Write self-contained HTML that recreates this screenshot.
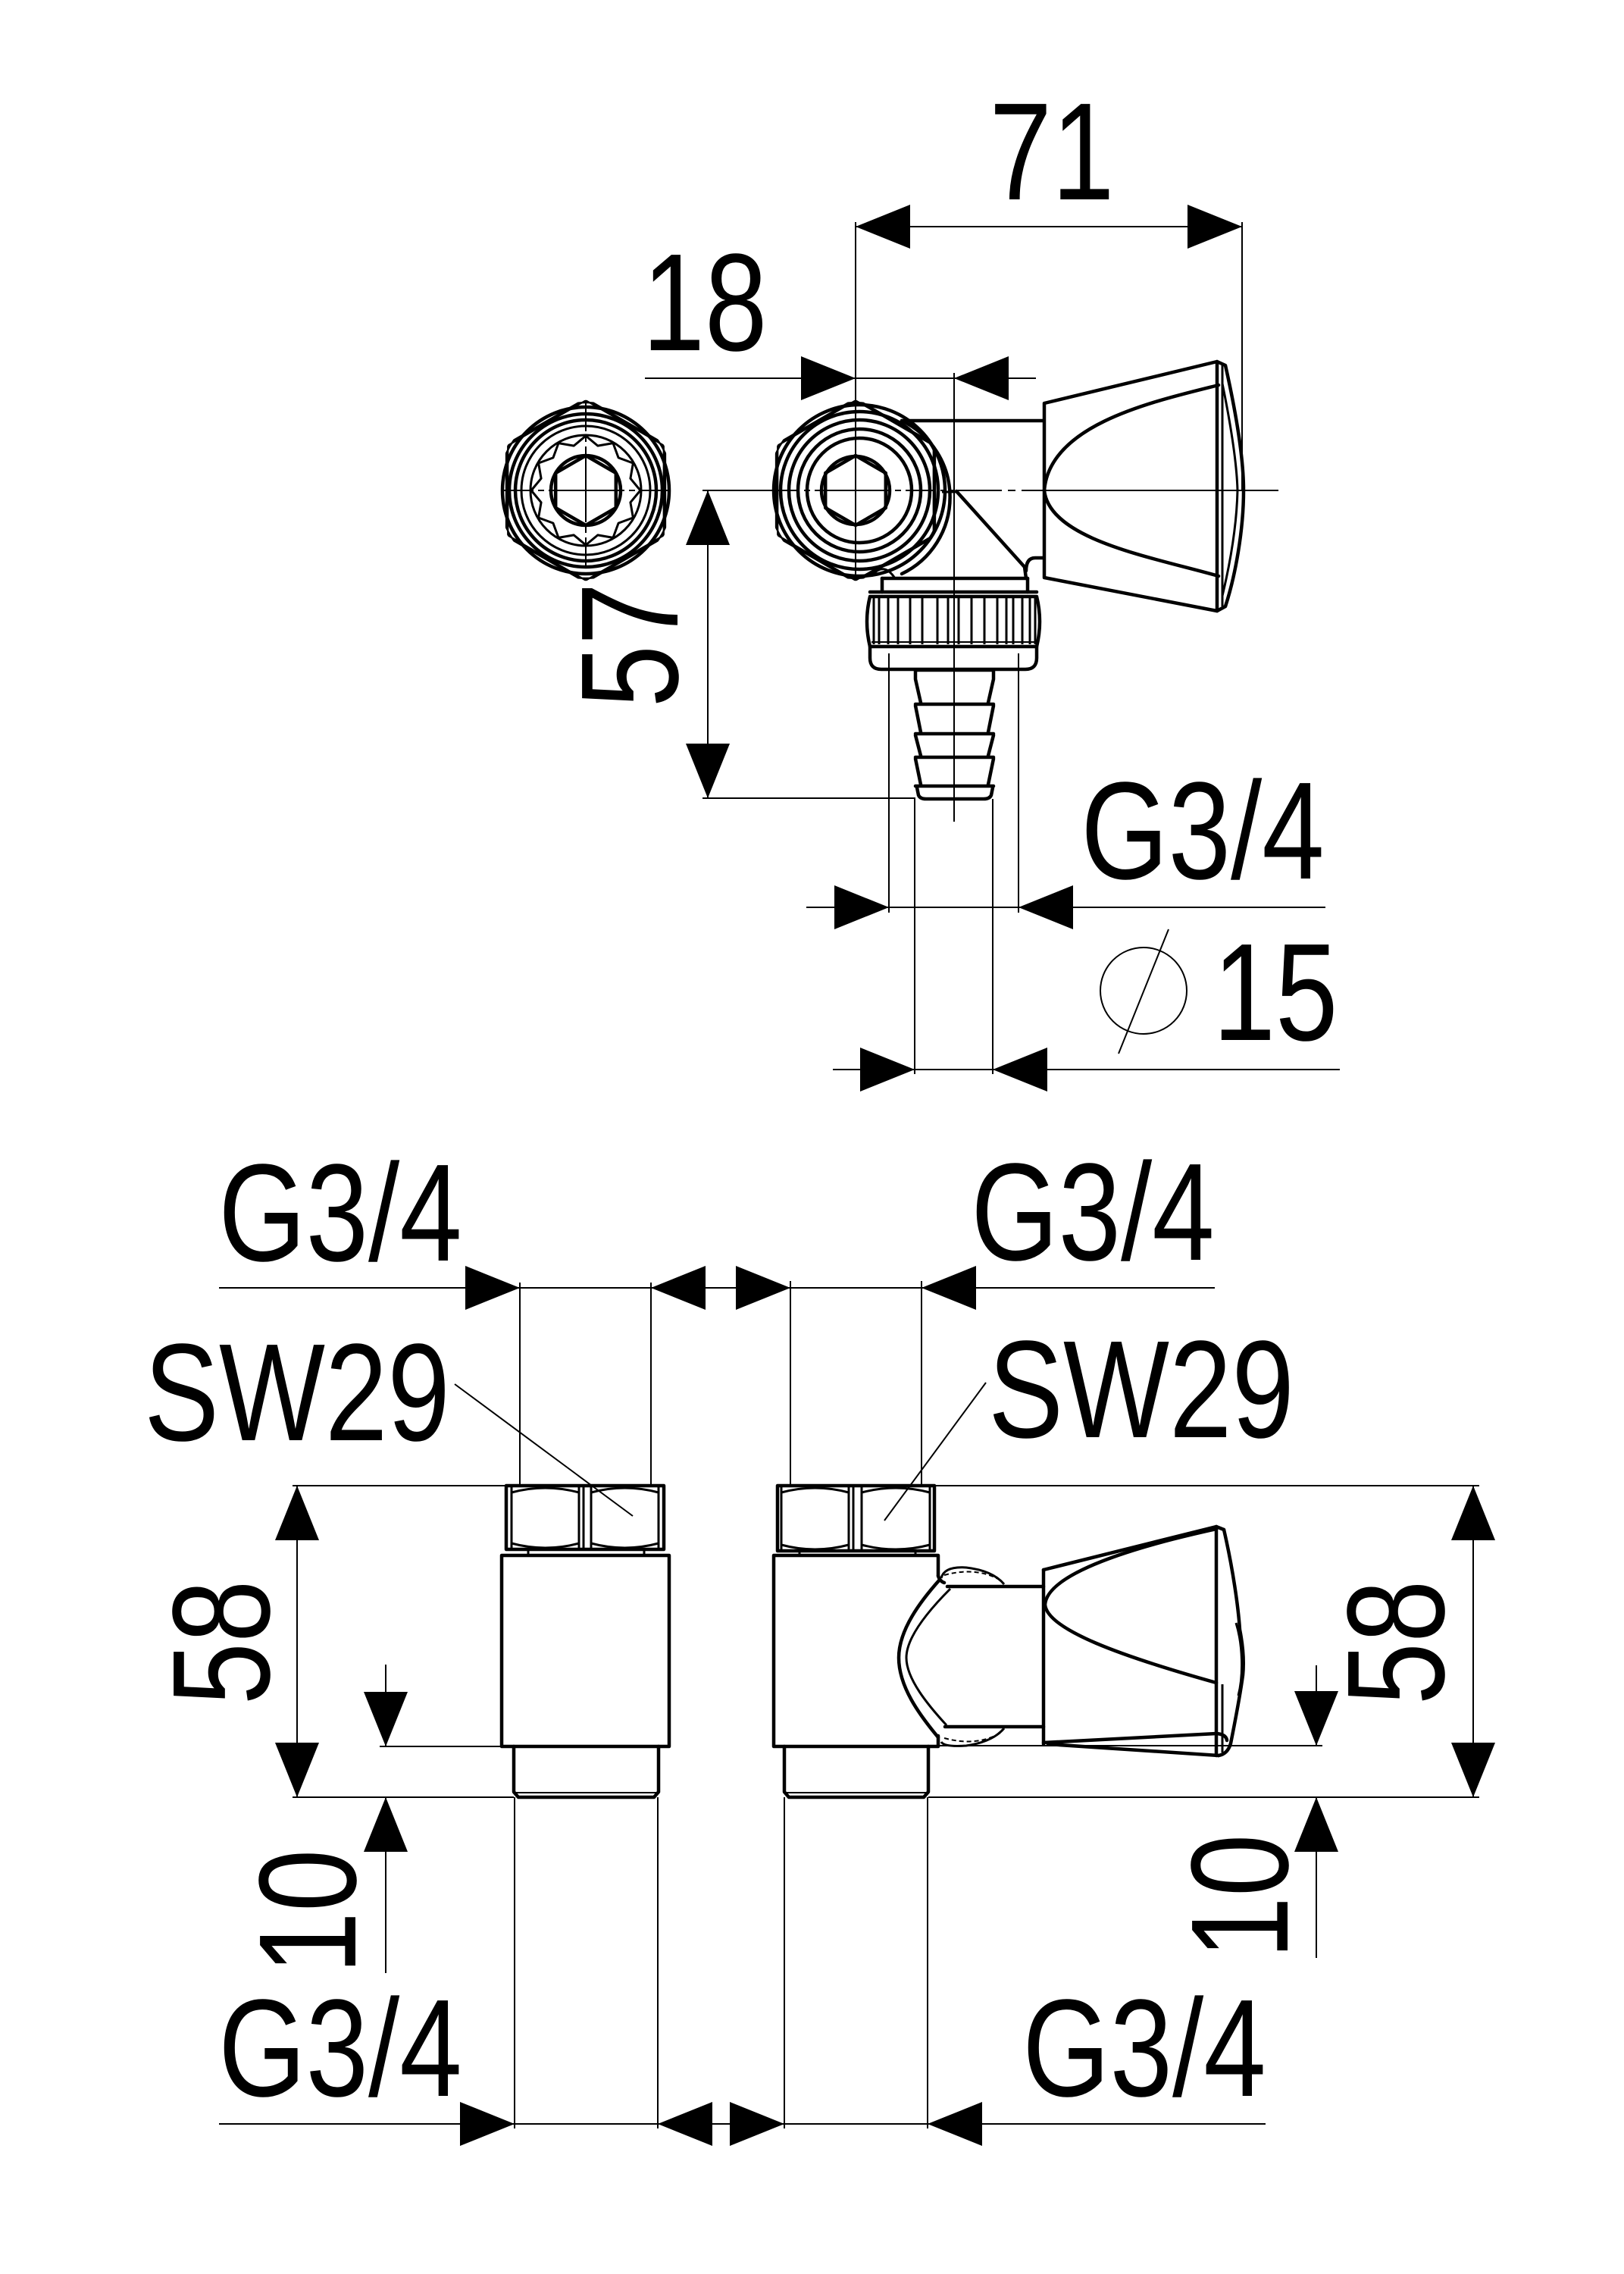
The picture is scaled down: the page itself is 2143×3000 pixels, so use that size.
<!DOCTYPE html>
<html>
<head>
<meta charset="utf-8">
<style>
html,body{margin:0;padding:0;background:#fff;}
svg{display:block;}
.k{stroke:#000;stroke-width:4.5;fill:none;stroke-linejoin:round;stroke-linecap:round;}
.m{stroke:#000;stroke-width:3;fill:none;stroke-linejoin:round;}
.t{stroke:#000;stroke-width:2;fill:none;}
.c{stroke:#000;stroke-width:2;fill:none;stroke-dasharray:60 8 10 8;}
.a{fill:#000;stroke:none;}
text{font-family:"Liberation Sans",Arial,sans-serif;font-size:183px;fill:#000;}
</style>
</head>
<body>
<svg xmlns="http://www.w3.org/2000/svg" width="2143" height="3000" viewBox="0 0 2143 3000">
<rect width="2143" height="3000" fill="#fff"/>

<!-- ================= TOP VIEW ================= -->
<!-- Texts -->
<g transform="translate(1388,263) scale(0.81,1)"><text text-anchor="middle">71</text></g>
<g transform="translate(930,462) scale(0.81,1)"><text text-anchor="middle">18</text></g>
<g transform="translate(894,851) rotate(-90) scale(0.81,1)"><text text-anchor="middle">57</text></g>
<g transform="translate(1587,1159) scale(0.81,1)"><text text-anchor="middle">G3/4</text></g>
<g transform="translate(1683,1372) scale(0.81,1)"><text text-anchor="middle">15</text></g>
<circle class="t" cx="1509" cy="1307" r="57"/>
<line class="t" x1="1542" y1="1226" x2="1476" y2="1390"/>

<!-- dim 71 -->
<line class="t" x1="1129" y1="299" x2="1639" y2="299"/>
<polygon class="a" points="1129,299 1201,270 1201,328"/>
<polygon class="a" points="1639,299 1567,270 1567,328"/>
<line class="t" x1="1129" y1="293" x2="1129" y2="760"/>
<line class="t" x1="1639" y1="293" x2="1639" y2="647"/>

<!-- dim 18 -->
<line class="t" x1="851" y1="499" x2="1367" y2="499"/>
<polygon class="a" points="1129,499 1057,470 1057,528"/>
<polygon class="a" points="1259,499 1331,470 1331,528"/>
<line class="t" x1="1259" y1="492" x2="1259" y2="1084"/>

<!-- dim 57 -->
<line class="t" x1="934" y1="647" x2="934" y2="1053"/>
<polygon class="a" points="934,647 905,719 963,719"/>
<polygon class="a" points="934,1053 905,981 963,981"/>
<line class="t" x1="927" y1="647" x2="1021" y2="647"/>
<line class="t" x1="927" y1="1053" x2="1208" y2="1053"/>

<!-- dim G3/4 hose -->
<line class="t" x1="1064" y1="1197" x2="1749" y2="1197"/>
<polygon class="a" points="1173,1197 1101,1168 1101,1226"/>
<polygon class="a" points="1344,1197 1416,1168 1416,1226"/>
<line class="t" x1="1173" y1="862" x2="1173" y2="1204"/>
<line class="t" x1="1344" y1="862" x2="1344" y2="1204"/>

<!-- dim diameter 15 -->
<line class="t" x1="1099" y1="1411" x2="1768" y2="1411"/>
<polygon class="a" points="1207,1411 1135,1382 1135,1440"/>
<polygon class="a" points="1310,1411 1382,1382 1382,1440"/>
<line class="t" x1="1207" y1="1054" x2="1207" y2="1417"/>
<line class="t" x1="1310" y1="1054" x2="1310" y2="1417"/>

<!-- LEFT NUT (front view) -->
<defs>
<clipPath id="clL"><circle cx="773" cy="647" r="117"/></clipPath>
<clipPath id="hxL"><polygon points="773,527 876.9,587 876.9,707 773,767 669.1,707 669.1,587"/></clipPath>
<clipPath id="clR"><circle cx="1129" cy="647" r="117"/></clipPath>
<clipPath id="hxR"><polygon points="1129,527 1232.9,587 1232.9,707 1129,767 1025.1,707 1025.1,587"/></clipPath>
</defs>
<polygon class="k" clip-path="url(#clL)" points="773,527 876.9,587 876.9,707 773,767 669.1,707 669.1,587"/>
<circle class="k" clip-path="url(#hxL)" cx="773" cy="647" r="117"/>
<circle class="k" cx="773" cy="647" r="110"/>
<circle class="k" cx="773" cy="647" r="101"/>
<circle class="k" cx="773" cy="647" r="93"/>
<circle class="m" cx="773" cy="647" r="85"/>
<circle class="m" cx="773" cy="647" r="73"/>
<polygon class="m" points="845,647 831.9,662.8 835.4,683 816.1,690.1 809,709.4 788.8,705.9 773,719 757.2,705.9 737,709.4 729.9,690.1 710.6,683 714.1,662.8 701,647 714.1,631.2 710.6,611 729.9,603.9 737,584.6 757.2,588.1 773,575 788.8,588.1 809,584.6 816.1,603.9 835.4,611 831.9,631.2"/>
<circle class="k" cx="773" cy="647" r="46"/>
<polygon class="k" points="773,601 812.8,624 812.8,670 773,693 733.2,670 733.2,624"/>
<line class="t" x1="664" y1="647" x2="884" y2="647" stroke-dasharray="40 6 8 6"/>
<line class="t" x1="773" y1="529" x2="773" y2="756" stroke-dasharray="40 6 8 6"/>
<line class="t" x1="753" y1="647" x2="793" y2="647"/>
<line class="t" x1="773" y1="627" x2="773" y2="667"/>

<!-- VALVE BODY top view -->
<path class="k" d="M1190,555 A112,112 0 0 1 1190,757"/>
<line class="k" x1="1190" y1="555" x2="1377" y2="555"/>
<line class="k" x1="1262" y1="648" x2="1352" y2="748"/>
<line class="m" x1="1243" y1="649" x2="1262" y2="649"/>
<path class="k" d="M1352,748 L1354,763 M1354,753 Q1354,736 1366,736 L1377,736"/>
<line class="k" x1="1164" y1="763" x2="1356" y2="763"/>
<path class="m" d="M1150,760 Q1166,740 1181,763"/>

<!-- RIGHT NUT (front view) -->
<polygon class="k" clip-path="url(#clR)" points="1129,527 1232.9,587 1232.9,707 1129,767 1025.1,707 1025.1,587"/>
<circle class="k" clip-path="url(#hxR)" cx="1129" cy="647" r="117"/>
<circle class="k" cx="1134" cy="647" r="113" fill="none"/>
<circle class="k" cx="1134" cy="647" r="104"/>
<circle class="k" cx="1134" cy="647" r="93"/>
<circle class="k" cx="1134" cy="647" r="81"/>
<circle class="k" cx="1134" cy="647" r="69"/>
<circle class="k" cx="1129" cy="647" r="45"/>
<polygon class="k" points="1129,601 1168.8,624 1168.8,670 1129,693 1089.2,670 1089.2,624"/>
<line class="t" x1="1015" y1="647" x2="1259" y2="647" stroke-dasharray="40 6 8 6"/>
<line class="t" x1="1109" y1="647" x2="1149" y2="647"/>
<line class="t" x1="1129" y1="627" x2="1129" y2="667"/>
<line class="c" x1="1262" y1="647" x2="1687" y2="647"/>

<!-- KNOB top view -->
<path class="k" d="M1378,532 L1606,477 L1606,806 L1378,762 Z" fill="#fff"/>
<path class="k" d="M1606,477 L1617,482 C1630,540 1641,600 1641,647 C1641,700 1630,760 1617,800 L1606,806"/>
<path class="m" d="M1613,506 C1624,560 1632,610 1633,647 C1632,690 1624,740 1613,786"/>
<line class="m" x1="1613" y1="482" x2="1613" y2="800"/>
<path class="k" d="M1608,508 C1520,530 1385,560 1378,647 C1385,712 1520,735 1608,760"/>
<line class="c" x1="1378" y1="647" x2="1687" y2="647"/>

<!-- collar + knurled nut -->
<line class="k" x1="1164" y1="763" x2="1164" y2="781"/>
<line class="k" x1="1356" y1="763" x2="1356" y2="781"/>
<line class="k" x1="1148" y1="781" x2="1368" y2="781"/>
<path class="k" d="M1148,787 L1368,787 Q1376,820 1368,853 L1148,853 Q1140,820 1148,787 Z"/>
<g class="m">
<line x1="1153" y1="789" x2="1153" y2="850"/><line x1="1160" y1="789" x2="1160" y2="850"/>
<line x1="1172" y1="789" x2="1172" y2="850"/><line x1="1185" y1="789" x2="1185" y2="850"/>
<line x1="1201" y1="789" x2="1201" y2="850"/><line x1="1217" y1="789" x2="1217" y2="850"/>
<line x1="1237" y1="789" x2="1237" y2="850"/><line x1="1251" y1="789" x2="1251" y2="850"/>
<line x1="1265" y1="789" x2="1265" y2="850"/><line x1="1282" y1="789" x2="1282" y2="850"/>
<line x1="1299" y1="789" x2="1299" y2="850"/><line x1="1316" y1="789" x2="1316" y2="850"/>
<line x1="1328" y1="789" x2="1328" y2="850"/><line x1="1337" y1="789" x2="1337" y2="850"/>
<line x1="1349" y1="789" x2="1349" y2="850"/><line x1="1359" y1="789" x2="1359" y2="850"/>
<line x1="1366" y1="789" x2="1366" y2="850"/>
</g>
<line class="t" x1="1150" y1="847" x2="1366" y2="847"/>
<path class="k" d="M1148,853 L1148,868 Q1148,883 1163,883 L1353,883 Q1368,883 1368,868 L1368,853"/>

<!-- hose barb -->
<path class="k" d="M1208,884 L1311,884 M1208,884 L1208,896 L1215,927 M1311,884 L1311,896 L1304,927
M1208,929 L1311,929 M1208,931 L1215,966 M1311,931 L1304,966
M1208,968 L1311,968 M1208,970 L1215,997 M1311,970 L1304,997
M1208,999 L1311,999 M1208,1001 L1215,1035 M1311,1001 L1304,1035
M1208,1037 L1311,1037 M1210,1039 L1212,1049 Q1214,1054 1222,1054 L1298,1054 Q1306,1054 1308,1049 L1310,1039"/>

<!-- ================= BOTTOM VIEWS ================= -->
<g transform="translate(449,1663) scale(0.81,1)"><text text-anchor="middle">G3/4</text></g>
<g transform="translate(1442,1662) scale(0.81,1)"><text text-anchor="middle">G3/4</text></g>
<g transform="translate(392,1900) scale(0.81,1)"><text text-anchor="middle">SW29</text></g>
<g transform="translate(1506,1896) scale(0.81,1)"><text text-anchor="middle">SW29</text></g>
<g transform="translate(449,2765) scale(0.81,1)"><text text-anchor="middle">G3/4</text></g>
<g transform="translate(1510,2765) scale(0.81,1)"><text text-anchor="middle">G3/4</text></g>
<g transform="translate(355,2167) rotate(-90) scale(0.81,1)"><text text-anchor="middle">58</text></g>
<g transform="translate(1905,2167) rotate(-90) scale(0.81,1)"><text text-anchor="middle">58</text></g>
<g transform="translate(469,2522) rotate(-90) scale(0.81,1)"><text text-anchor="middle">10</text></g>
<g transform="translate(1699,2502) rotate(-90) scale(0.81,1)"><text text-anchor="middle">10</text></g>

<!-- top G3/4 dims -->
<line class="t" x1="289" y1="1699" x2="1603" y2="1699"/>
<polygon class="a" points="686,1699 614,1670 614,1728"/>
<polygon class="a" points="859,1699 931,1670 931,1728"/>
<polygon class="a" points="1043,1699 971,1670 971,1728"/>
<polygon class="a" points="1216,1699 1288,1670 1288,1728"/>
<line class="t" x1="686" y1="1692" x2="686" y2="1960"/>
<line class="t" x1="859" y1="1692" x2="859" y2="1960"/>
<line class="t" x1="1043" y1="1690" x2="1043" y2="1960"/>
<line class="t" x1="1216" y1="1690" x2="1216" y2="1960"/>

<!-- bottom G3/4 dims -->
<line class="t" x1="289" y1="2802" x2="1670" y2="2802"/>
<polygon class="a" points="679,2802 607,2773 607,2831"/>
<polygon class="a" points="868,2802 940,2773 940,2831"/>
<polygon class="a" points="1035,2802 963,2773 963,2831"/>
<polygon class="a" points="1224,2802 1296,2773 1296,2831"/>
<line class="t" x1="679" y1="2371" x2="679" y2="2808"/>
<line class="t" x1="868" y1="2371" x2="868" y2="2808"/>
<line class="t" x1="1035" y1="2371" x2="1035" y2="2808"/>
<line class="t" x1="1224" y1="2371" x2="1224" y2="2808"/>

<!-- SW29 leaders -->
<line class="t" x1="600" y1="1826" x2="835" y2="2000"/>
<line class="t" x1="1301" y1="1824" x2="1167" y2="2006"/>

<!-- 58 left -->
<line class="t" x1="392" y1="1960" x2="392" y2="2371"/>
<polygon class="a" points="392,1960 363,2032 421,2032"/>
<polygon class="a" points="392,2371 363,2299 421,2299"/>
<line class="t" x1="386" y1="1960" x2="668" y2="1960"/>
<line class="t" x1="386" y1="2371" x2="678" y2="2371"/>
<!-- 58 right -->
<line class="t" x1="1944" y1="1960" x2="1944" y2="2371"/>
<polygon class="a" points="1944,1960 1915,2032 1973,2032"/>
<polygon class="a" points="1944,2371 1915,2299 1973,2299"/>
<line class="t" x1="1233" y1="1960" x2="1952" y2="1960"/>
<line class="t" x1="1225" y1="2371" x2="1952" y2="2371"/>
<!-- 10 left -->
<line class="t" x1="509" y1="2196" x2="509" y2="2304"/>
<line class="t" x1="509" y1="2371" x2="509" y2="2603"/>
<polygon class="a" points="509,2304 480,2232 538,2232"/>
<polygon class="a" points="509,2371 480,2443 538,2443"/>
<line class="t" x1="501" y1="2304" x2="662" y2="2304"/>
<!-- 10 right -->
<line class="t" x1="1737" y1="2197" x2="1737" y2="2303"/>
<line class="t" x1="1737" y1="2371" x2="1737" y2="2583"/>
<polygon class="a" points="1737,2303 1708,2231 1766,2231"/>
<polygon class="a" points="1737,2371 1708,2443 1766,2443"/>
<line class="t" x1="1238" y1="2303" x2="1745" y2="2303"/>

<!-- LEFT FITTING side -->
<rect class="k" x="668" y="1960" width="208" height="84"/>
<g class="m">
<line x1="675" y1="1962" x2="675" y2="2042"/>
<line x1="764" y1="1962" x2="764" y2="2042"/>
<line x1="770" y1="1962" x2="770" y2="2042"/>
<line x1="780" y1="1962" x2="780" y2="2042"/>
<line x1="869" y1="1962" x2="869" y2="2042"/>
<path d="M675,1969 Q719.5,1957 764,1969 M780,1969 Q824.5,1957 869,1969 M675,2036 Q719.5,2048 764,2036 M780,2036 Q824.5,2048 869,2036"/>
<line x1="697" y1="2044" x2="697" y2="2052"/>
<line x1="850" y1="2044" x2="850" y2="2052"/>
</g>
<rect class="k" x="662" y="2052" width="221" height="252"/>
<path class="k" d="M678,2304 L678,2364 L684,2371 L863,2371 L869,2364 L869,2304"/>
<line class="t" x1="678" y1="2365" x2="869" y2="2365"/>

<!-- RIGHT FITTING side -->
<rect class="k" x="1026" y="1960" width="207" height="86"/>
<g class="m">
<line x1="1031" y1="1962" x2="1031" y2="2044"/>
<line x1="1120" y1="1962" x2="1120" y2="2044"/>
<line x1="1126" y1="1962" x2="1126" y2="2044"/>
<line x1="1137" y1="1962" x2="1137" y2="2044"/>
<line x1="1227" y1="1962" x2="1227" y2="2044"/>
<path d="M1031,1969 Q1075.5,1957 1120,1969 M1137,1969 Q1182,1957 1227,1969 M1031,2038 Q1075.5,2050 1120,2038 M1137,2038 Q1182,2050 1227,2038"/>
<line x1="1055" y1="2046" x2="1055" y2="2052"/>
<line x1="1208" y1="2046" x2="1208" y2="2052"/>
</g>
<path class="k" d="M1238,2079 L1238,2052 L1021,2052 L1021,2304 L1238,2304 L1238,2290"/>
<path class="k" d="M1035,2304 L1035,2364 L1041,2371 L1219,2371 L1225,2364 L1225,2304"/>
<line class="t" x1="1035" y1="2365" x2="1225" y2="2365"/>
<!-- bracket -->
<path class="k" d="M1238,2079 Q1240,2086 1246,2088 M1240,2084 C1215,2112 1186,2150 1186,2187 C1186,2225 1213,2262 1238,2292"/>
<path class="m" d="M1254,2096 C1225,2125 1196,2160 1196,2187 C1196,2215 1225,2250 1249,2276"/>
<path class="m" d="M1242,2082 Q1246,2066 1275,2068 Q1310,2072 1325,2090"/>
<path class="t" d="M1246,2078 Q1290,2066 1322,2086" stroke-dasharray="6 4"/>
<path class="m" d="M1242,2298 Q1246,2305 1275,2303 Q1310,2298 1325,2280"/>
<path class="t" d="M1246,2293 Q1290,2305 1322,2285" stroke-dasharray="6 4"/>
<line class="k" x1="1250" y1="2093" x2="1377" y2="2093"/>
<line class="k" x1="1247" y1="2278" x2="1377" y2="2278"/>
<!-- knob side -->
<path class="k" d="M1377,2071 L1605,2014 L1615,2018"/>
<line class="k" x1="1377" y1="2071" x2="1377" y2="2301"/>
<path class="k" d="M1615,2018 C1627,2070 1634,2120 1636,2150 C1640,2170 1642,2190 1640,2210 C1636,2240 1630,2270 1624,2300 Q1620,2314 1608,2316"/>
<line class="k" x1="1605" y1="2014" x2="1605" y2="2316"/>
<line class="m" x1="1613" y1="2222" x2="1613" y2="2312"/>
<path class="m" d="M1631,2141 C1640,2170 1641,2210 1634,2237"/>
<path class="k" d="M1377,2299 L1605,2287 Q1618,2288 1619,2296"/>
<path class="k" d="M1383,2301 L1608,2316"/>
<path class="k" d="M1605,2017 C1500,2040 1382,2075 1379,2117 C1382,2150 1480,2185 1605,2220"/>
</svg>
</body>
</html>
